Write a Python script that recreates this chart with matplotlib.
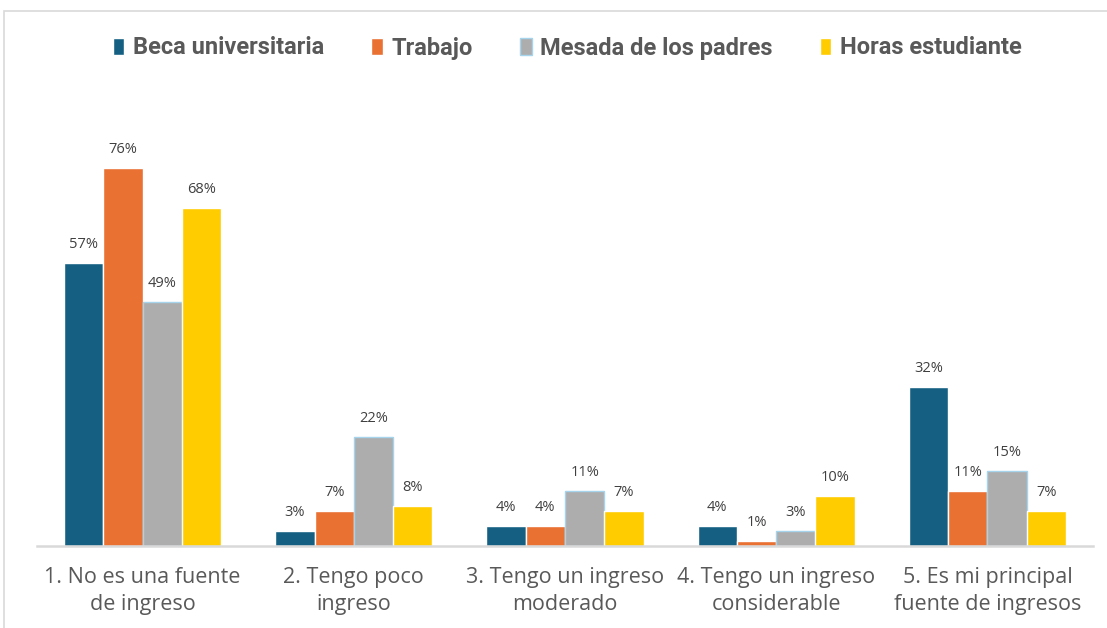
import matplotlib
matplotlib.use("Agg")
import matplotlib.pyplot as plt
import numpy as np
from matplotlib.patches import Rectangle

# Datos
categorias = ["1. No es una fuente\nde ingreso", "2. Tengo poco\ningreso",
              "3. Tengo un ingreso\nmoderado", "4. Tengo un ingreso\nconsiderable",
              "5. Es mi principal\nfuente de ingresos"]
beca = [0.57, 0.03, 0.04, 0.04, 0.32]
trabajo = [0.76, 0.07, 0.04, 0.01, 0.11]
mesada = [0.49, 0.22, 0.11, 0.03, 0.15]
horas = [0.68, 0.08, 0.07, 0.10, 0.07]
series = ["Beca universitaria", "Trabajo", "Mesada de los padres", "Horas estudiante"]

colores = ["#156082", "#E97132", "#ADADAD", "#FFCC00"]
bordes = ["white", "white", "#A6D4EC", "white"]

fig = plt.figure(figsize=(11.07, 6.28), dpi=100)
ax = fig.add_axes([37 / 1107, 1 - 546 / 628, 1056 / 1107, 397.6 / 628])

# Marco del gráfico
fig.patches.append(Rectangle((4 / 1107, -0.1), 1.2, 1 - 11 / 628 + 0.1,
                             transform=fig.transFigure, fill=False,
                             edgecolor="#D9D9D9", linewidth=1.2))

x = np.arange(len(categorias))
ancho = 0.186
datos = [beca, trabajo, mesada, horas]
for i, (vals, nombre) in enumerate(zip(datos, series)):
    pos = x + (i - 1.5) * ancho
    ax.bar(pos, vals, ancho, color=colores[i], edgecolor=bordes[i],
           linewidth=1.0, label=nombre, zorder=2)
    for px, v in zip(pos, vals):
        ax.annotate(f"{v:.0%}", (px, v), xytext=(0, 8), textcoords="offset points",
                    ha="center", va="bottom", fontsize=10.5, color="#404040",
                    family=["Open Sans", "DejaVu Sans"])

ax.set_xlim(-0.5, len(categorias) - 0.5)
ax.set_ylim(0, 0.8)
ax.set_yticks([])
for s in ["top", "right", "left"]:
    ax.spines[s].set_visible(False)
ax.spines["bottom"].set_color("#D9D9D9")
ax.spines["bottom"].set_linewidth(1.8)
ax.set_xticks(x)
ax.set_xticklabels(categorias, fontsize=15.5, color="#595959",
                   family=["Open Sans", "DejaVu Sans"], linespacing=1.4)
ax.tick_params(axis="x", length=0, pad=15)

leg = fig.legend(loc="center", bbox_to_anchor=(567 / 1107, 1 - 48 / 628), ncol=4,
                 frameon=False, handlelength=0.5, handleheight=0.75,
                 handletextpad=0.35, columnspacing=2.0,
                 prop={"family": ["Roboto", "DejaVu Sans"],
                       "weight": "bold", "size": 17})
for t in leg.get_texts():
    t.set_color("#595959")

plt.savefig("out.png", dpi=100)
